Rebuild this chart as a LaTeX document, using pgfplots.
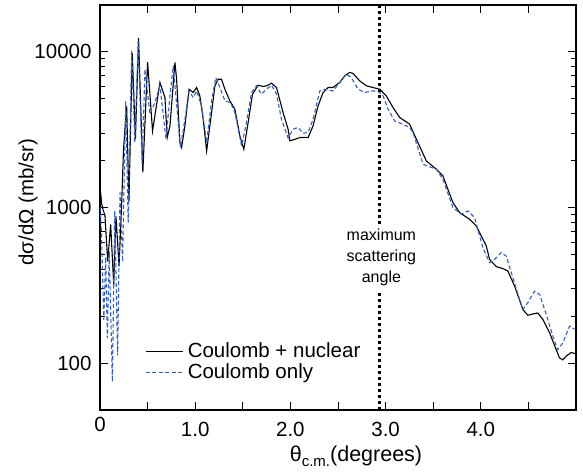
\documentclass[border=0pt]{standalone}
\usepackage{fontspec}
\setmainfont{Liberation Sans}
\usepackage{pgfplots}
\pgfplotsset{compat=1.18}
\definecolor{cblue}{RGB}{50,95,195}
\pgfplotstableread{
x y
0.000 1375
0.018 1050
0.031 973
0.052 890
0.081 451
0.112 780
0.144 320
0.168 877
0.200 419
0.228 1080
0.247 2366
0.280 4500
0.304 1100
0.339 9800
0.372 2750
0.405 12300
0.450 1680
0.500 8600
0.552 3100
0.590 4400
0.630 6354
0.682 5090
0.706 2815
0.735 3343
0.787 8550
0.805 6670
0.839 2614
0.857 2427
0.892 3343
0.936 5755
0.979 5480
1.015 5900
1.049 5210
1.084 3690
1.120 2307
1.172 4076
1.207 6050
1.241 6670
1.276 6670
1.312 5755
1.364 4842
1.417 4277
1.469 2884
1.511 2366
1.556 3515
1.602 5345
1.661 6110
1.714 5990
1.749 6050
1.802 6290
1.854 5900
1.923 4076
1.976 3185
1.994 2680
2.046 2740
2.099 2815
2.186 2815
2.238 3343
2.291 4500
2.343 5480
2.396 5900
2.448 5900
2.518 6354
2.571 7010
2.623 7380
2.658 7270
2.728 6510
2.798 6050
2.868 5900
2.938 5755
3.008 5210
3.078 4389
3.148 3785
3.218 3546
3.253 3424
3.323 2750
3.428 1991
3.533 1762
3.602 1595
3.707 1075
3.778 927
3.882 840
3.953 760
4.058 565
4.092 464
4.163 417
4.232 405
4.284 391
4.355 313
4.442 221
4.494 203
4.547 207
4.599 210
4.652 191
4.722 157
4.792 122
4.827 108
4.862 105
4.897 111
4.950 117
4.995 115
}\nuclear
\pgfplotstableread{
x y
0.000 1000
0.015 700
0.040 190
0.060 480
0.077 145
0.097 520
0.130 76
0.155 950
0.185 112
0.210 1250
0.237 450
0.270 4800
0.296 800
0.333 10200
0.366 2600
0.401 11600
0.443 1900
0.472 7740
0.525 3975
0.577 4730
0.630 6050
0.693 2750
0.735 5210
0.769 8130
0.822 3515
0.846 2427
0.892 3690
0.936 5600
0.979 5090
1.015 5600
1.067 4500
1.120 2614
1.172 4842
1.217 6840
1.259 5900
1.312 4842
1.371 4730
1.417 4076
1.487 2484
1.532 3343
1.592 5480
1.643 6050
1.696 5345
1.749 5755
1.802 6110
1.854 5345
1.906 3690
1.976 2800
2.028 3185
2.081 3265
2.133 3000
2.186 3034
2.238 3690
2.308 5600
2.361 5755
2.448 5600
2.518 6354
2.588 7190
2.640 6840
2.710 5755
2.781 5480
2.851 5600
2.920 5600
2.973 5210
3.026 4277
3.095 3598
3.183 3424
3.253 3265
3.288 3034
3.393 1897
3.481 1807
3.533 1762
3.602 1517
3.707 1000
3.795 904
3.865 950
3.935 861
4.022 552
4.092 442
4.145 464
4.215 513
4.267 488
4.337 354
4.407 257
4.442 221
4.494 245
4.564 290
4.617 277
4.687 206
4.757 149
4.809 122
4.862 135
4.932 173
4.984 165
}\coulomb
\begin{document}
\fontsize{20.5}{24}\selectfont
\begin{tikzpicture}
\begin{axis}[
  scale only axis, width=476pt, height=405pt,
  xmin=0, xmax=5, ymode=log, ymin=50, ymax=20000,
  axis line style={line width=1.3pt},
  tick style={black, line width=1pt},
  tick align=inside,
  major tick length=8pt, minor tick length=5pt,
  xtick={0,1,2,3,4}, xticklabels={\raisebox{5pt}{0},1.0,2.0,3.0,4.0},
  extra x ticks={0.5,1.5,2.5,3.5,4.5}, extra x tick labels={,,,,},
  xticklabel style={anchor=base, yshift=-27pt},
  ytick={100,1000,10000}, yticklabels={100,1000,10000},
  yticklabel style={xshift=-1.5pt},
  /pgf/number format/assume math mode=true,
  legend style={draw=none, fill=none, at={(rel axis cs:0.0945,0.1185)}, anchor=west,
    inner sep=0pt, row sep=-1.5pt, column sep=2.5pt, nodes={inner sep=2pt}},
  legend cell align=left,
  legend image code/.code={\draw[#1] (0pt,0pt) -- (37pt,0pt);},
]
\addplot[black, line width=1.1pt] table {\nuclear};
\addlegendentry{Coulomb + nuclear}
\addplot[cblue, line width=1.1pt, dash pattern=on 4pt off 2.5pt] table {\coulomb};
\addlegendentry{Coulomb only}
\addplot[black, line width=2.6pt, dash pattern=on 2.6pt off 3.4pt, forget plot] coordinates {(2.938,50) (2.938,20000)};
\node[fill=white, align=center, font=\fontsize{16}{21}\selectfont, inner xsep=2pt, inner ysep=4pt] at (axis cs:2.956,479) {maximum\\scattering\\angle};
\end{axis}
\node[rotate=90, anchor=center, inner sep=0pt] at ([shift={(-72pt,208pt)}]current axis.south west) {dσ/dΩ (mb/sr)};
\node[anchor=base, inner sep=0pt, font=\fontsize{21.5}{24}\selectfont] at ([shift={(256pt,-51pt)}]current axis.south west) {θ\raisebox{-5pt}{\fontsize{15}{15}\selectfont c.m.}(degrees)};
\path (current axis.south west) ++(-100pt,-64pt) rectangle ++(583pt,474pt);
\end{tikzpicture}
\end{document}
